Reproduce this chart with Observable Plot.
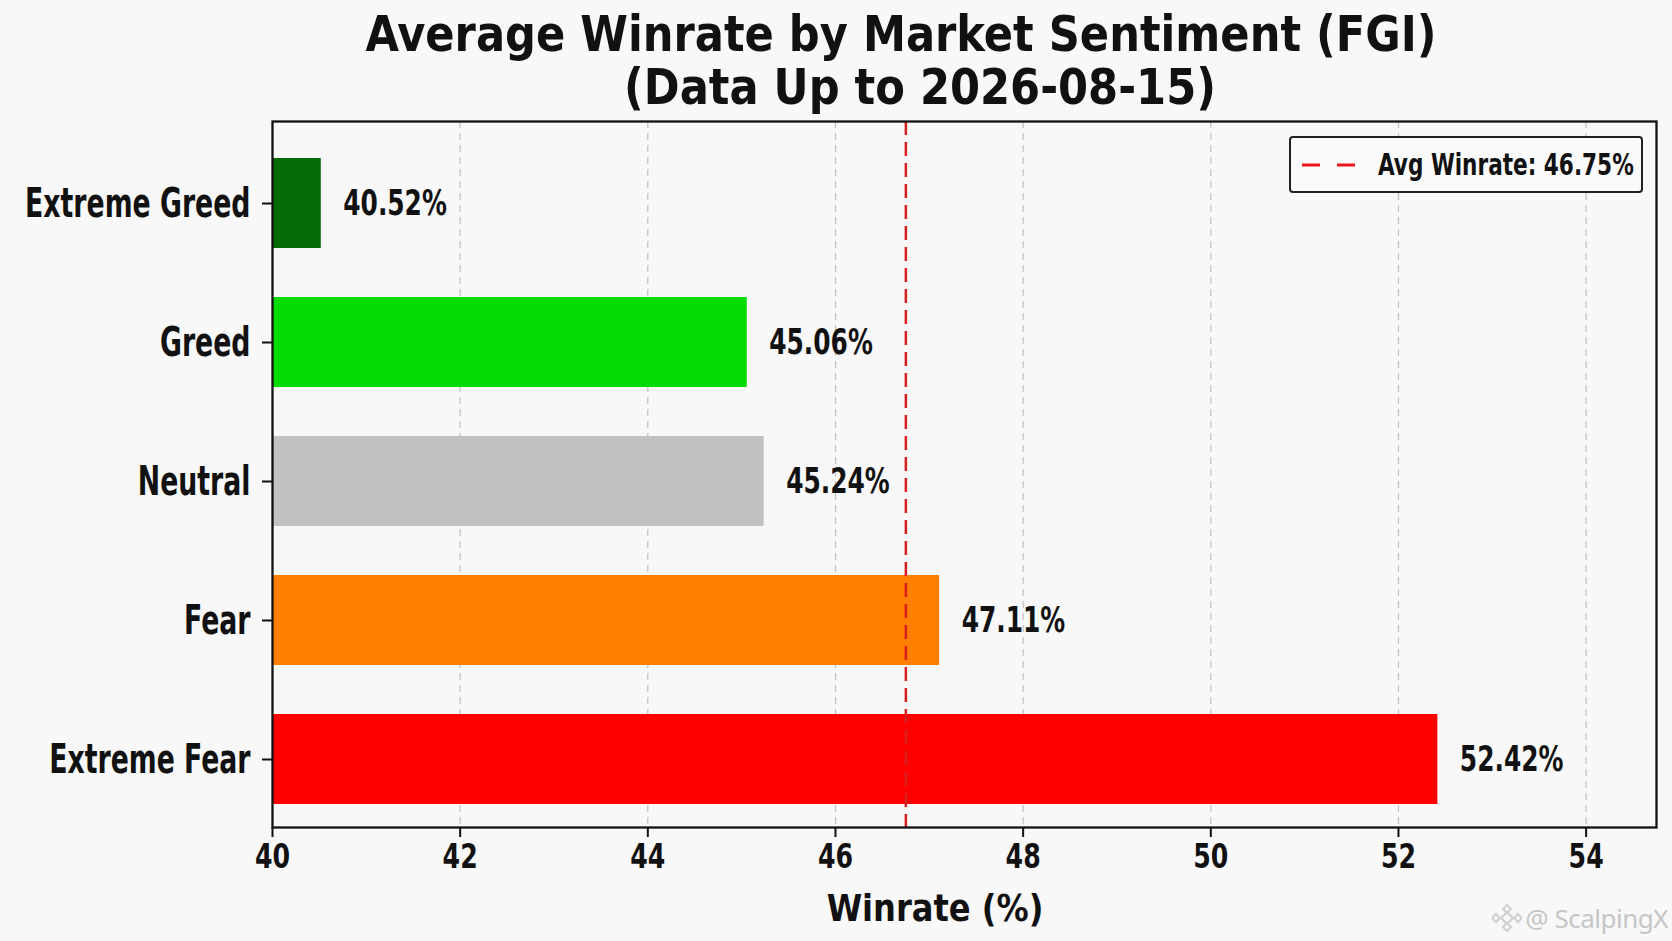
<!DOCTYPE html>
<html>
<head>
<meta charset="utf-8">
<script src="https://cdn.jsdelivr.net/npm/d3@7"></script>
<script src="https://cdn.jsdelivr.net/npm/@observablehq/plot@0.6"></script>
<style>
html, body { margin: 0; padding: 0; background: #f8f8f8; }
#wrap { position: relative; width: 1672px; height: 941px; overflow: hidden; background: #f8f8f8; }
#title {
  height: 110px; box-sizing: border-box; padding-top: 8px; color: #111;
  font-family: "DejaVu Sans Condensed", "DejaVu Sans", sans-serif; font-stretch: condensed;
  font-weight: bold; font-size: 50px; line-height: 53px; white-space: nowrap;
}
#title div { text-align: center; transform: scaleX(0.96); }
#legend {
  position: absolute; left: 1289px; top: 136px; width: 354px; height: 57px;
  box-sizing: border-box; border: 2px solid #222; border-radius: 4px; background: #fafafa;
  display: flex; align-items: center; padding-left: 11px; white-space: nowrap;
  font-family: "DejaVu Sans Condensed", "DejaVu Sans", sans-serif;
  font-stretch: condensed; font-weight: bold; font-size: 30px; color: #111;
}
#legend svg { margin-right: 23px; flex: none; }
#legtext { display: inline-block; transform: scaleX(0.8); transform-origin: left center; }
#watermark {
  position: absolute; right: 4px; top: 900px; color: #c6c6c6; display: flex; align-items: center;
  font-family: "Noto Sans", sans-serif; font-size: 26px; letter-spacing: -0.5px; white-space: nowrap;
}
#watermark svg { margin-right: 3px; }
</style>
</head>
<body>
<div id="wrap">
  <div id="title"></div>
  <div id="chart"></div>
  <div id="legend"><svg width="53" height="10"><line x1="0" x2="53" y1="5" y2="5" stroke="#e8161b" stroke-width="3" stroke-dasharray="18,17"/></svg><span id="legtext"></span></div>
  <div id="watermark"><svg width="30" height="30" viewBox="0 0 30 30" fill="none" stroke="#cfcfcf" stroke-width="2"><path d="M15 9 L21 15 L15 21 L9 15 Z"/><path d="M15 2 L19 6 L15 10 L11 6 Z"/><path d="M15 20 L19 24 L15 28 L11 24 Z"/><path d="M4 11 L8 15 L4 19 L0 15 Z"/><path d="M26 11 L30 15 L26 19 L22 15 Z"/></svg><span id="wmtext"></span></div>
</div>
<script>
const titleLines = ["Average Winrate by Market Sentiment (FGI)", "(Data Up to 2026-08-15)"];
const categories = ["Extreme Greed", "Greed", "Neutral", "Fear", "Extreme Fear"];
const winrates = [40.52, 45.06, 45.24, 47.11, 52.42];
const barColors = ["#056c05", "#04dc04", "#c2c2c2", "#ff7f00", "#ff0000"];
const avgWinrate = 46.75;
const xTicks = [40, 42, 44, 46, 48, 50, 52, 54];
const xDomain = [40, 54.75];
const xLabel = "Winrate (%)";
const watermarkText = "@ ScalpingX";

const FONT = '"DejaVu Sans Condensed", "DejaVu Sans", sans-serif';

// title lines, each centred where the reference centres it
const titleCenters = [901, 920];
const titleEl = document.getElementById("title");
titleLines.forEach((line, i) => {
  const d = document.createElement("div");
  d.textContent = line;
  d.style.marginLeft = (2 * titleCenters[i] - 1672) + "px";
  titleEl.appendChild(d);
});
document.getElementById("legtext").textContent = `Avg Winrate: ${avgWinrate.toFixed(2)}%`;
document.getElementById("wmtext").textContent = watermarkText;

const data = categories.map((c, i) => ({ category: c, winrate: winrates[i] }));
const fmtValue = v => v.toFixed(2) + "%";

const chart = Plot.plot({
  width: 1672, height: 831,
  marginTop: 11, marginBottom: 114, marginLeft: 272, marginRight: 16,
  style: { background: "transparent", fontFamily: FONT, fontWeight: "bold", color: "#111", overflow: "visible", fontStretch: "condensed" },
  x: { domain: xDomain, ticks: xTicks, label: null },
  y: { domain: categories, paddingInner: 0.35, paddingOuter: 0.2, align: 0.62, label: null },
  color: { domain: categories, range: barColors },
  marks: [
    Plot.gridX(xTicks.slice(1), { stroke: "#c0c0c0", strokeOpacity: 1, strokeWidth: 1.2, strokeDasharray: "7,5" }),
    Plot.barX(data, { y: "category", x1: xDomain[0], x2: "winrate", fill: "category" }),
    Plot.ruleX([avgWinrate], { stroke: "#d81e1e", strokeWidth: 2.5, strokeDasharray: "14,7" }),
    Plot.text(data, { y: "category", x: "winrate", text: d => fmtValue(d.winrate), dx: 22, textAnchor: "start", fontSize: 35, fontWeight: "bold", fill: "#111" }),
    Plot.frame({ stroke: "#111", strokeWidth: 2.3 }),
    Plot.axisX({ ticks: xTicks, tickSize: 10, tickPadding: 7, fontSize: 33, tickFormat: d => String(d), strokeWidth: 2, stroke: "#111", label: null }),
    Plot.axisY({ tickSize: 10, tickPadding: 12, fontSize: 41, strokeWidth: 2, stroke: "#111", label: null }),
    Plot.text([xLabel], { frameAnchor: "bottom", dy: 93, dx: -29.5, fontSize: 38, fontWeight: "bold", fill: "#111" })
  ]
});

// narrow the glyphs horizontally around each text's own anchor, as in the reference
function squeezeText(t, s) {
  const x = parseFloat(t.getAttribute("x") || 0) || 0;
  const tr = t.getAttribute("transform") || "";
  t.setAttribute("transform", `${tr} translate(${x},0) scale(${s},1) translate(${-x},0)`);
}
const valueTexts = new Set(winrates.map(fmtValue));
const tickTexts = new Set(xTicks.map(String));
chart.querySelectorAll("text").forEach(t => {
  const s = t.textContent.trim();
  if (categories.includes(s)) squeezeText(t, 0.725);
  else if (valueTexts.has(s)) squeezeText(t, 0.79);
  else if (tickTexts.has(s)) squeezeText(t, 0.85);
  else if (s === xLabel) squeezeText(t, 0.94);
});

document.getElementById("chart").appendChild(chart);
</script>
</body>
</html>
